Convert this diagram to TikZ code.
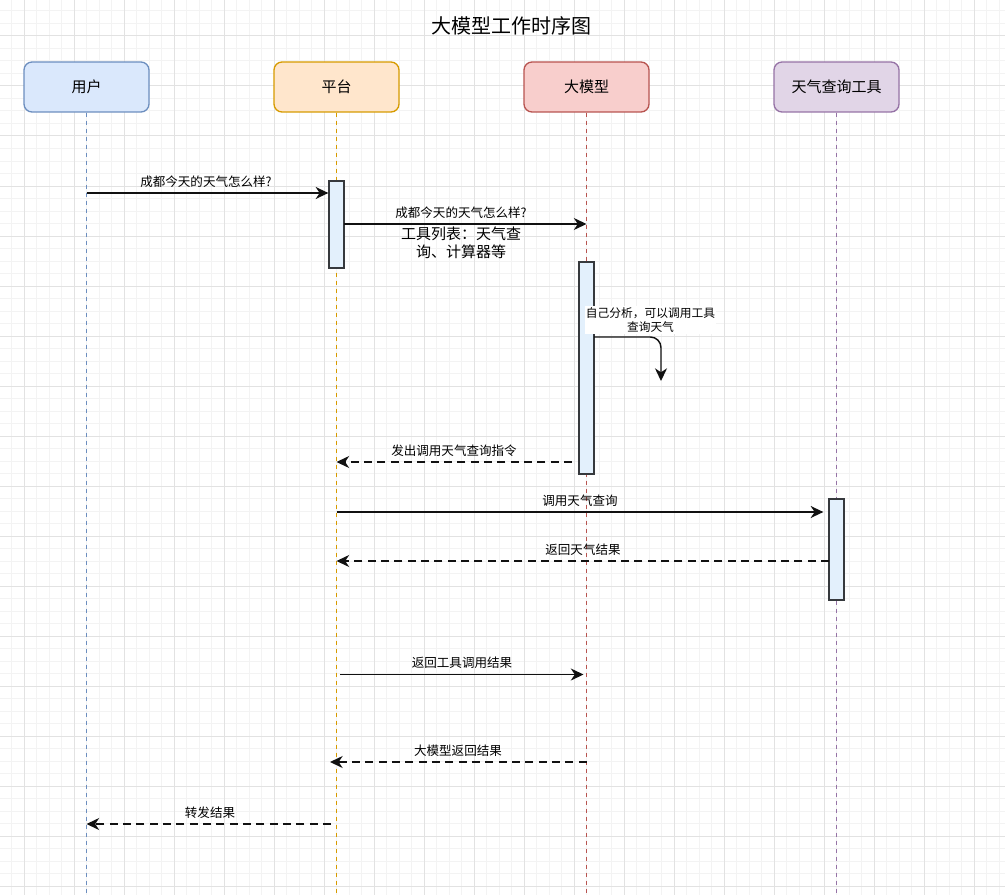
\documentclass[tikz,border=0pt]{standalone}
\usepackage{fontspec}
\setmainfont{Noto Sans CJK SC}
\usetikzlibrary{arrows.meta}
\newdimen\pxu \pxu=0.75pt
\definecolor{gridminor}{HTML}{F3F3F3}
\definecolor{gridmajor}{HTML}{E2E2E2}
\definecolor{ublue}{HTML}{DAE8FC}\definecolor{sblue}{HTML}{6C8EBF}
\definecolor{uorange}{HTML}{FFE6CC}\definecolor{sorange}{HTML}{D79B00}
\definecolor{ured}{HTML}{F8CECC}\definecolor{sred}{HTML}{B85450}
\definecolor{upurple}{HTML}{E1D5E7}\definecolor{spurple}{HTML}{9673A6}
\definecolor{barfill}{HTML}{E3F0FC}\definecolor{barline}{HTML}{36393D}
\definecolor{msg}{HTML}{111111}
\begin{document}
\begin{tikzpicture}[x=0.75pt,y=-0.75pt,
  actor/.style={draw, line width=1pt, rounded corners=6pt, minimum width=125\pxu, minimum height=50\pxu, inner sep=0pt, font=\fontsize{11.25}{13}\selectfont},
  lifeline/.style={line width=0.8pt, dash pattern=on 3pt off 3pt},
  actbar/.style={draw=barline, fill=barfill, line width=1pt, minimum width=15\pxu, inner sep=0pt},
  tip/.style={-{Stealth[length=9.5pt,width=9pt,inset=3pt]}},
  msgline/.style={tip, draw=msg, line width=1.1pt},
  retline/.style={msgline, dash pattern=on 6pt off 4pt},
  lbl/.style={font=\fontsize{9.4}{11}\selectfont, inner sep=0pt}
]
\useasboundingbox (0,0) rectangle (1005,895);
\fill[white] (0,0) rectangle (1005,895);
% grid
\foreach \gx in {-0.7,11.8,...,1006} {\draw[gridminor, line width=0.75pt] (\gx,0) -- (\gx,895);}
\foreach \gy in {-1.5,11,...,896} {\draw[gridminor, line width=0.75pt] (0,\gy) -- (1005,\gy);}
\foreach \gx in {24.3,74.3,...,1006} {\draw[gridmajor, line width=0.75pt] (\gx,0) -- (\gx,895);}
\foreach \gy in {36,86,...,896} {\draw[gridmajor, line width=0.75pt] (0,\gy) -- (1005,\gy);}

% title
\node[font=\fontsize{15}{18}\selectfont] (title) at (511,26) {大模型工作时序图};

% actors
\node[actor, fill=ublue, draw=sblue] (user) at (86.5,87) {用户};
\node[actor, fill=uorange, draw=sorange] (plat) at (336.5,87) {平台};
\node[actor, fill=ured, draw=sred] (llm) at (586.5,87) {大模型};
\node[actor, fill=upurple, draw=spurple] (tool) at (836.5,87) {天气查询工具};

\coordinate (bot) at (0,895);
\draw[lifeline, sblue] (user.south) -- (user.south |- bot);
\draw[lifeline, sorange] (plat.south) -- (plat.south |- bot);
\draw[lifeline, sred] (llm.south) -- (llm.south |- bot);
\draw[lifeline, spurple] (tool.south) -- (tool.south |- bot);

% activation bars
\node[actbar, minimum height=87\pxu] (pbar) at (336.5,224.5) {};
\node[actbar, minimum height=212\pxu] (lbar) at (586.5,368) {};
\node[actbar, minimum height=101\pxu] (tbar) at (836.5,549.5) {};

% message 1
\coordinate (m1a) at (86.5,193);
\draw[msgline] (m1a) -- (pbar.west |- m1a);
\node[lbl] (l1) at (206,182) {成都今天的天气怎么样?};

% message 2
\coordinate (m2a) at (344,224);
\draw[msgline] (m2a) -- (llm.south |- m2a);
\node[lbl] (l2) at (461,213) {成都今天的天气怎么样?};
\node[font=\fontsize{11.25}{13.5}\selectfont, align=center, inner sep=0pt] (l2b) at (461,243) {工具列表：天气查\\询、计算器等};

% message 3 (self)
\coordinate (m3a) at (594,337);
\coordinate (m3c) at (661,337);
\coordinate (m3b) at (661,381);
\draw[msgline, rounded corners=8pt] (m3a) -- (m3c) -- (m3b);
\node[font=\fontsize{8.8}{10.5}\selectfont, align=center, fill=white, inner xsep=0.5pt, inner ysep=1.5pt] (l3) at (650.5,320) {自己分析，可以调用工具\\查询天气};

% message 4
\coordinate (m4a) at (572,462);
\draw[retline] (m4a) -- (plat.south |- m4a);
\node[lbl] (l4) at (454,451) {发出调用天气查询指令};

% message 5
\coordinate (m5a) at (336.5,512);
\draw[msgline, shorten >=5\pxu] (m5a) -- (tbar.west |- m5a);
\node[lbl] (l5) at (580,501) {调用天气查询};

% message 6
\coordinate (m6a) at (829,561);
\draw[retline] (m6a) -- (plat.south |- m6a);
\node[lbl] (l6) at (583,550) {返回天气结果};

% message 7
\coordinate (m7a) at (340,674.5);
\draw[msgline, shorten >=3\pxu] (m7a) -- (llm.south |- m7a);
\node[lbl] (l7) at (462,663) {返回工具调用结果};

% message 8
\coordinate (m8a) at (586.5,762);
\draw[retline, shorten >=-6.5\pxu] (m8a) -- (plat.south |- m8a);
\node[lbl] (l8) at (458,751) {大模型返回结果};

% message 9
\coordinate (m9a) at (331,824);
\draw[retline] (m9a) -- (user.south |- m9a);
\node[lbl] (l9) at (210,813) {转发结果};
\end{tikzpicture}
\end{document}
